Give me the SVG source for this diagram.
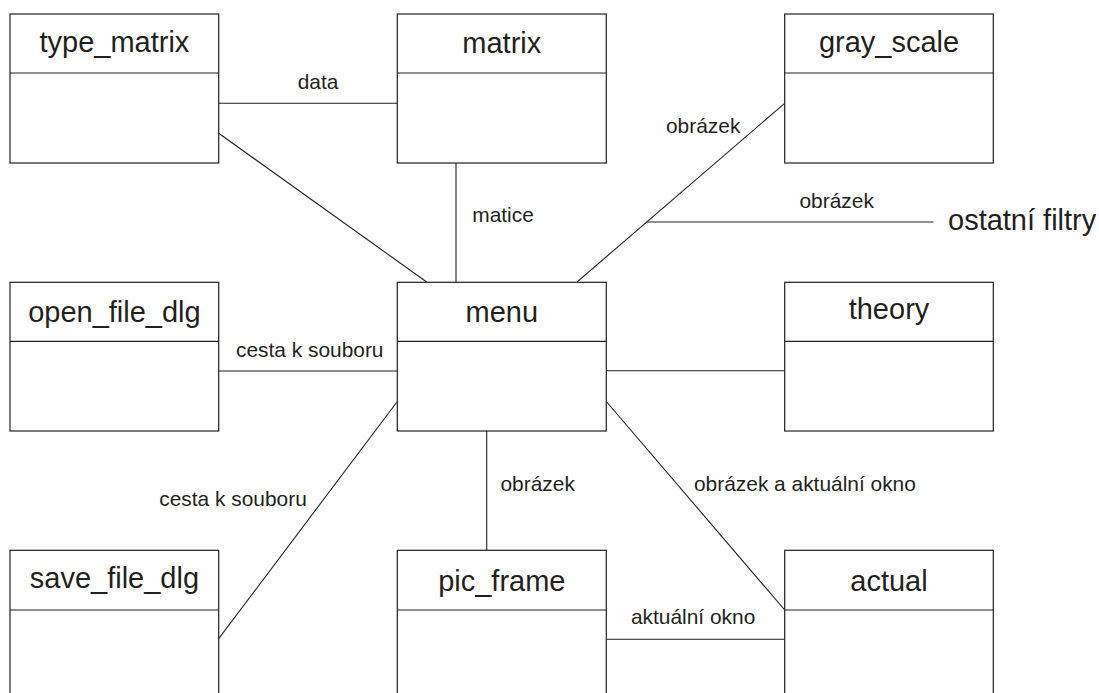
<svg xmlns="http://www.w3.org/2000/svg" width="1099" height="693" viewBox="0 0 1099 693">
<style>
.box{fill:#fff;stroke:#231f20;stroke-width:1.2}
.div{stroke:#231f20;stroke-width:1.2}
.ttl{font-family:"Liberation Sans",Arial,sans-serif;font-size:29px;fill:#231f20;text-anchor:middle}
.lbl{font-family:"Liberation Sans",Arial,sans-serif;font-size:20.9px;fill:#231f20}
.con line{stroke:#231f20;stroke-width:1.1;fill:none}
</style>
<rect width="1099" height="693" fill="#fff"/>
<g id="connectors" class="con">
<line x1="218.7" y1="103.3" x2="397.3" y2="103.3"/>
<line x1="218.7" y1="133.3" x2="426.7" y2="282"/>
<line x1="456" y1="163" x2="456" y2="282"/>
<line x1="784.7" y1="103.3" x2="577" y2="282"/>
<line x1="646.5" y1="222" x2="933.5" y2="222"/>
<line x1="218.7" y1="371" x2="397.3" y2="371"/>
<line x1="606.3" y1="370.7" x2="784.7" y2="370.7"/>
<line x1="218.7" y1="638.7" x2="397.3" y2="401.5"/>
<line x1="486.7" y1="431" x2="486.7" y2="550.3"/>
<line x1="606.3" y1="401.5" x2="784.7" y2="610"/>
<line x1="606.3" y1="639.3" x2="784.7" y2="639.3"/>
</g>
<g id="labels">
<text class="lbl" x="297.7" y="89.3">data</text>
<text class="lbl" x="472.3" y="221.7">matice</text>
<text class="lbl" x="666" y="132.7">obrázek</text>
<text class="lbl" x="799.5" y="208.3">obrázek</text>
<text x="948" y="230" style="font-family:'Liberation Sans',Arial,sans-serif;font-size:29px;fill:#231f20">ostatní filtry</text>
<text class="lbl" x="236" y="356.7">cesta k souboru</text>
<text class="lbl" x="159.3" y="506">cesta k souboru</text>
<text class="lbl" x="500.5" y="490.7">obrázek</text>
<text class="lbl" x="694" y="490.7">obrázek a aktuální okno</text>
<text class="lbl" x="631" y="624">aktuální okno</text>
</g>
<g id="type_matrix">
<rect class="box" x="10" y="14" width="208.7" height="149"/>
<line class="div" x1="10" y1="73" x2="218.7" y2="73"/>
<text class="ttl" x="114.4" y="52">type_matrix</text>
</g>
<g id="matrix">
<rect class="box" x="397.3" y="14" width="209" height="149"/>
<line class="div" x1="397.3" y1="73" x2="606.3" y2="73"/>
<text class="ttl" x="501.8" y="53">matrix</text>
</g>
<g id="gray_scale">
<rect class="box" x="784.7" y="14" width="208.6" height="149"/>
<line class="div" x1="784.7" y1="73" x2="993.3" y2="73"/>
<text class="ttl" x="889" y="52">gray_scale</text>
</g>
<g id="open_file_dlg">
<rect class="box" x="10" y="282.3" width="208.7" height="148.7"/>
<line class="div" x1="10" y1="341.3" x2="218.7" y2="341.3"/>
<text class="ttl" x="114.4" y="321.7">open_file_dlg</text>
</g>
<g id="menu">
<rect class="box" x="397.3" y="282.3" width="209" height="148.7"/>
<line class="div" x1="397.3" y1="341.3" x2="606.3" y2="341.3"/>
<text class="ttl" x="501.8" y="321.7">menu</text>
</g>
<g id="theory">
<rect class="box" x="784.7" y="282.3" width="208.6" height="148.7"/>
<line class="div" x1="784.7" y1="341.3" x2="993.3" y2="341.3"/>
<text class="ttl" x="889" y="319">theory</text>
</g>
<g id="save_file_dlg">
<rect class="box" x="10" y="550.3" width="208.7" height="170"/>
<line class="div" x1="10" y1="610" x2="218.7" y2="610"/>
<text class="ttl" x="114.4" y="587.5">save_file_dlg</text>
</g>
<g id="pic_frame">
<rect class="box" x="397.3" y="550.3" width="209" height="170"/>
<line class="div" x1="397.3" y1="610" x2="606.3" y2="610"/>
<text class="ttl" x="501.8" y="591">pic_frame</text>
</g>
<g id="actual">
<rect class="box" x="784.7" y="550.3" width="208.6" height="170"/>
<line class="div" x1="784.7" y1="610" x2="993.3" y2="610"/>
<text class="ttl" x="889" y="591">actual</text>
</g>
</svg>
